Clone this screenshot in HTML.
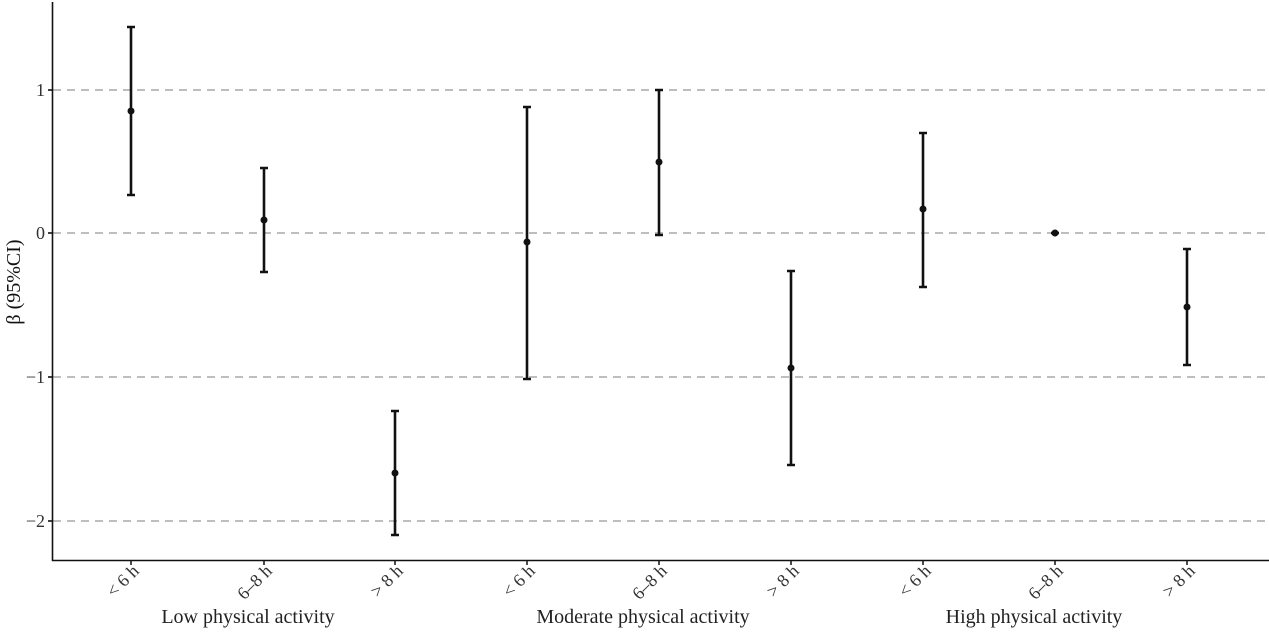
<!DOCTYPE html>
<html><head><style>body{margin:0;background:#fff}</style></head><body>
<svg width="1269" height="630" xmlns="http://www.w3.org/2000/svg" font-family="Liberation Serif, serif">
<g stroke="#a8a8a8" stroke-width="1.4" stroke-dasharray="8,6">
<line x1="53" x2="1269" y1="90" y2="90"/><line x1="53" x2="1269" y1="233" y2="233"/>
<line x1="53" x2="1269" y1="377" y2="377"/><line x1="53" x2="1269" y1="521" y2="521"/>
</g>
<g stroke="#111" stroke-width="1.6">
<line x1="52.5" y1="2" x2="52.5" y2="561"/><line x1="52" y1="560.5" x2="1269" y2="560.5"/>
<line x1="48" x2="52" y1="90" y2="90"/><line x1="48" x2="52" y1="233" y2="233"/><line x1="48" x2="52" y1="377" y2="377"/><line x1="48" x2="52" y1="521" y2="521"/>
</g>
<g font-size="18" fill="#333" text-anchor="end">
<text x="45" y="96">1</text><text x="45" y="239">0</text><text x="45" y="383">−1</text><text x="45" y="527">−2</text>
</g>
<text transform="translate(20,282) rotate(-90)" font-size="20" text-anchor="middle" fill="#111">β (95%CI)</text>
<g stroke="#111" stroke-width="2.6" fill="#111">
<path d="M131 27V195M127 27h8M127 195h8"/>
<path d="M264 168V272M260 168h8M260 272h8"/>
<path d="M395 411V535M391 411h8M391 535h8"/>
<path d="M527 107V379M523 107h8M523 379h8"/>
<path d="M659 90V235M655 90h8M655 235h8"/>
<path d="M791 271V465M787 271h8M787 465h8"/>
<path d="M923 133V287M919 133h8M919 287h8"/>
<path d="M1051 233h8"/>
<path d="M1187 249V365M1183 249h8M1183 365h8"/>
</g>
<g fill="#111">
<circle cx="131" cy="111" r="3.5"/><circle cx="264" cy="220" r="3.5"/><circle cx="395" cy="473" r="3.5"/>
<circle cx="527" cy="242" r="3.5"/><circle cx="659" cy="162" r="3.5"/><circle cx="791" cy="368" r="3.5"/>
<circle cx="923" cy="209" r="3.5"/><circle cx="1055" cy="233" r="3.5"/><circle cx="1187" cy="307" r="3.5"/>
</g>
<g stroke="#111" stroke-width="1.5">
<line x1="131" x2="131" y1="561" y2="565"/><line x1="264" x2="264" y1="561" y2="565"/><line x1="395" x2="395" y1="561" y2="565"/>
<line x1="527" x2="527" y1="561" y2="565"/><line x1="659" x2="659" y1="561" y2="565"/><line x1="791" x2="791" y1="561" y2="565"/>
<line x1="923" x2="923" y1="561" y2="565"/><line x1="1055" x2="1055" y1="561" y2="565"/><line x1="1187" x2="1187" y1="561" y2="565"/>
</g>
<g font-size="18" fill="#333" text-anchor="end">
<text transform="translate(140,572) rotate(-45)">&lt; 6 h</text>
<text transform="translate(273,572) rotate(-45)">6–8 h</text>
<text transform="translate(404,572) rotate(-45)">&gt; 8 h</text>
<text transform="translate(536,572) rotate(-45)">&lt; 6 h</text>
<text transform="translate(668,572) rotate(-45)">6–8 h</text>
<text transform="translate(800,572) rotate(-45)">&gt; 8 h</text>
<text transform="translate(932,572) rotate(-45)">&lt; 6 h</text>
<text transform="translate(1064,572) rotate(-45)">6–8 h</text>
<text transform="translate(1196,572) rotate(-45)">&gt; 8 h</text>
</g>
<g font-size="20" fill="#222" text-anchor="middle">
<text x="248" y="623">Low physical activity</text>
<text x="643" y="623">Moderate physical activity</text>
<text x="1034" y="623">High physical activity</text>
</g>
</svg>
</body></html>
